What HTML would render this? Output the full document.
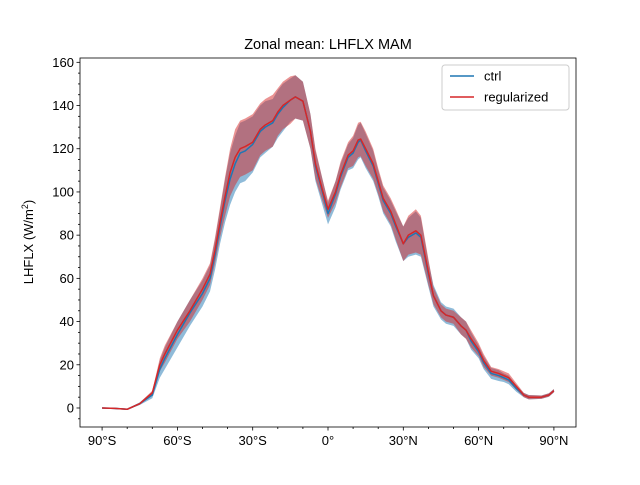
<!DOCTYPE html>
<html><head><meta charset="utf-8"><style>
body{margin:0;background:#fff}
svg text{font-family:"Liberation Sans","DejaVu Sans",sans-serif;fill:#000}
</style></head><body>
<svg id="chart" width="640" height="480" xmlns="http://www.w3.org/2000/svg">
<rect width="640" height="480" fill="#fff"/>
<text x="328" y="49" font-size="14.5" text-anchor="middle">Zonal mean: LHFLX MAM</text>
<g id="plot"></g>
<g id="axes"></g>
</svg>
<script>
const lats = [-90,-85,-80,-75,-70,-67,-65,-60,-55,-50,-47,-45,-43,-41,-39,-37,-35,-33,-30,-27,-25,-22,-20,-18,-15,-13,-10,-7,-5,-2,0,3,5,8,10,12,13,15,18,20,22,25,27,30,32,35,37,40,42,45,47,50,53,55,57,60,62,65,68,70,72,75,78,80,85,88,90];
const regMean = [0,-0.2,-0.6,2,7,20,25,36,45,55,62,73,86,98,109,116,120,121,123,129,131,133,137,140,142.5,144,142,128,113,100,92,100,108,117,119,124,124.5,120,113,105,97,91,85,76,80,82,80,63,52,45,43,42,38,36,32,27,22,17,16,15,14,10,6,5,5,6,8];
const ctrlMean = [0,-0.2,-0.6,2,6,18,23,34,44,53,60,71,84,96,106,113,118,119,122,128,130,132,136,139,142.5,144,142,128,112,99,90,99,107,116,118,123,124,119,112,104,96,90,84,76,79,81,79,62,52,45,43,42,38,36,31,26,21,16,15,14,13,9,6,5,5,6,8];
const regSpread = [0.3,0.3,0.3,0.5,1,3,4,4,5,5,5,6,7,9,11,13,13,13,13,12,12,12,11,11,11,10,9,8,7,5,4,5,6,6,7,8,8,8,7,6,6,6,7,8,9,10,9,6,4,3,3,3,4,4,4,3,3,2,2,2,2,1.5,1,1,0.8,0.8,0.8];
const ctrlSpread = [0.3,0.3,0.3,0.6,1.5,4,5,6,6,6,6,7,8,10,12,13,14,14,13,12,12,11,11,11,10,10,9,8,7,6,5,6,6,6,7,8,8,8,7,6,6,6,7,8,9,10,9,6,5,4,4,4,4,4,4,3,3,2.5,2.5,2,2,1.5,1,1,0.8,0.8,0.8];
const xTicks = [-90,-60,-30,0,30,60,90];
const xTickLabels = ["90°S","60°S","30°S","0°","30°N","60°N","90°N"];
const yTicks = [0,20,40,60,80,100,120,140,160];

const L=80,R=576,T=58,B=427;
const xmin=-98.8,xmax=98.8,ymin=-8.8,ymax=162;
const X=v=>L+(v-xmin)/(xmax-xmin)*(R-L);
const Y=v=>B-(v-ymin)/(ymax-ymin)*(B-T);
const NS="http://www.w3.org/2000/svg";
const plot=document.getElementById('plot'), axes=document.getElementById('axes');
function mk(tag,attrs,parent){const e=document.createElementNS(NS,tag);for(const k in attrs)e.setAttribute(k,attrs[k]);parent.appendChild(e);return e;}
function band(mean,spr){let up=lats.map((l,i)=>X(l).toFixed(2)+','+Y(mean[i]+spr[i]).toFixed(2));let lo=lats.map((l,i)=>X(l).toFixed(2)+','+Y(mean[i]-spr[i]).toFixed(2)).reverse();return 'M'+up.join('L')+'L'+lo.join('L')+'Z';}
function line(mean){return 'M'+lats.map((l,i)=>X(l).toFixed(2)+','+Y(mean[i]).toFixed(2)).join('L');}
const b1=mk('path',{d:band(ctrlMean,ctrlSpread),fill:'#1f77b4','fill-opacity':0.5},plot);


const b2=mk('path',{d:band(regMean,regSpread),fill:'#d62728','fill-opacity':0.5},plot);


const l1=mk('path',{d:line(ctrlMean),fill:'none',stroke:'#1f77b4','stroke-width':1.5,'stroke-linejoin':'round'},plot);


const l2=mk('path',{d:line(regMean),fill:'none',stroke:'#d62728','stroke-width':1.5,'stroke-linejoin':'round'},plot);



mk('rect',{x:L,y:T,width:R-L,height:B-T,fill:'none',stroke:'#000','stroke-width':0.8},axes);
for(let v=-90;v<=90;v+=10){mk('line',{x1:X(v),x2:X(v),y1:B,y2:B+(v%30===0?3.5:2),stroke:'#000','stroke-width':0.8},axes);}
xTicks.forEach((v,i)=>{const t=mk('text',{x:X(v),y:B+18,'font-size':13,'text-anchor':'middle'},axes);t.textContent=xTickLabels[i];

});
for(let v=-5;v<=160;v+=5){mk('line',{x1:L,x2:L-(v%20===0?3.5:2),y1:Y(v),y2:Y(v),stroke:'#000','stroke-width':0.8},axes);}
yTicks.forEach(v=>{const t=mk('text',{x:L-6,y:Y(v)+4.5,'font-size':13,'text-anchor':'end'},axes);t.textContent=v;

});
</script>
<svg style="position:absolute;left:0;top:0" width="640" height="480">
<text transform="translate(33,242) rotate(-90)" font-size="13" text-anchor="middle">LHFLX (W/m<tspan dy="-5" font-size="9">2</tspan><tspan dy="5">)</tspan></text>
<g>
<rect x="442" y="65" width="127" height="45" rx="3" fill="#fff" fill-opacity="0.8" stroke="#ccc"/>
<line x1="450" x2="474" y1="76" y2="76" stroke="#1f77b4" stroke-width="1.5"/>
<text x="484" y="80.5" font-size="13">ctrl</text>
<line x1="450" x2="474" y1="97" y2="97" stroke="#d62728" stroke-width="1.5"/>
<text x="484" y="101.5" font-size="13">regularized</text>
</g>
</svg>
</body></html>
